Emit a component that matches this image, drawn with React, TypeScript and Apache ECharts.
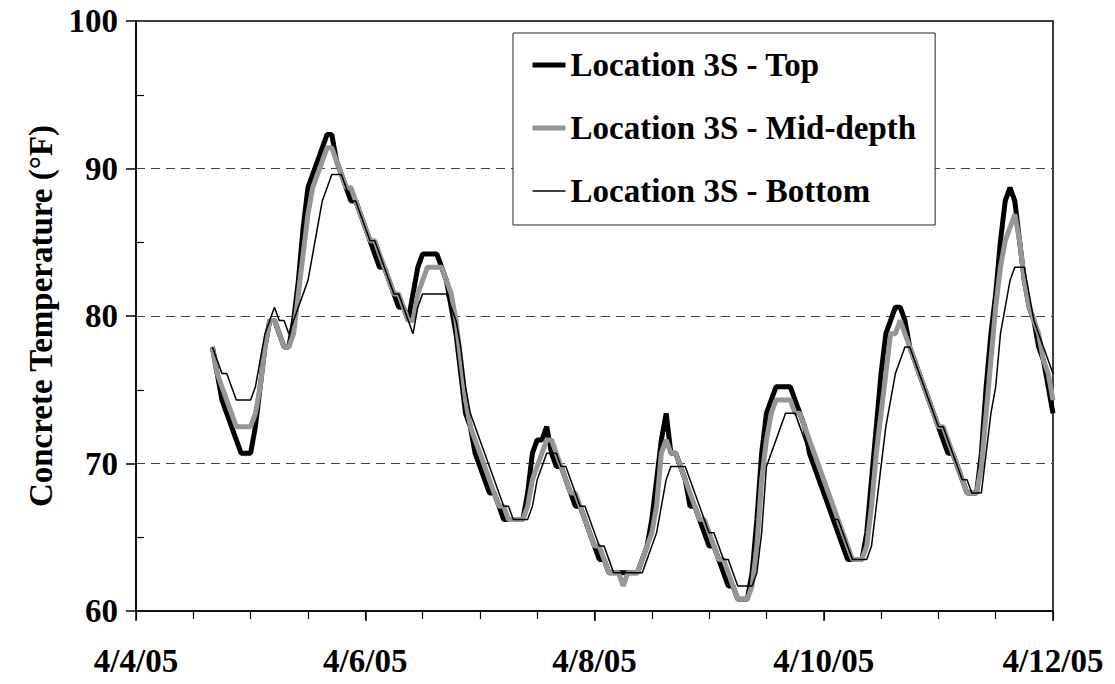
import React, { useEffect, useRef } from "react";
import * as echarts from "echarts";

// Hourly readings, starting at hour 16 of 4/4/05 (x axis in hours since 4/4/05 0:00)
const startHour = 16;
const xTickLabels = ["4/4/05", "4/6/05", "4/8/05", "4/10/05", "4/12/05"];
const yTicks = [60, 70, 80, 90, 100];
const seriesNames = ["Location 3S - Top", "Location 3S - Mid-depth", "Location 3S - Bottom"];

const topTemps = [
  77.9, 76.1, 74.3, 73.4, 72.5, 71.6, 70.7, 70.7, 70.7,
  72.5, 75.2, 77.9, 79.7, 79.7, 78.8, 77.9, 77.9,
  79.7, 82.4, 86.0, 88.7, 89.6, 90.5, 91.4, 92.3, 92.3,
  90.5, 89.6, 88.7, 87.8, 87.8, 86.9, 86.0, 85.1, 84.2, 83.3, 83.3, 82.4, 81.5, 80.6, 80.6, 79.7,
  81.5, 83.3, 84.2, 84.2, 84.2, 84.2, 83.3, 82.4, 80.6,
  78.8, 76.1, 73.4, 72.5, 70.7, 69.8, 68.9, 68.0, 68.0, 67.1, 66.2, 66.2, 66.2, 66.2, 66.2,
  68.0, 70.7, 71.6, 71.6, 72.5, 70.7,
  69.8, 69.8, 68.9, 68.0, 67.1, 67.1, 66.2, 65.3, 64.4, 63.5, 63.5, 62.6, 62.6, 62.6, 62.6, 62.6, 62.6, 62.6,
  63.5, 64.4, 66.2, 68.9, 71.6, 73.4,
  70.7, 70.7, 69.8, 68.9, 67.1, 67.1, 66.2, 65.3, 64.4, 64.4, 63.5, 62.6, 61.7, 61.7, 60.8, 60.8, 60.8,
  62.6, 66.2, 70.7, 73.4, 74.3, 75.2, 75.2, 75.2, 75.2,
  74.3, 73.4, 72.5, 70.7, 69.8, 68.9, 68.0, 67.1, 66.2, 65.3, 64.4, 63.5, 63.5, 63.5, 63.5,
  65.3, 68.9, 72.5, 76.1, 78.8, 79.7, 80.6, 80.6, 79.7,
  77.9, 77.0, 76.1, 75.2, 74.3, 73.4, 72.5, 71.6, 70.7, 70.7, 69.8, 68.9, 68.0, 68.0, 68.0,
  70.7, 75.2, 78.8, 81.5, 85.1, 87.8, 88.7, 87.8, 85.1, 82.4, 80.6, 79.7, 77.9, 77.0, 75.2, 73.4,
];

const midTemps = [
  77.9, 76.1, 75.2, 74.3, 73.4, 72.5, 72.5, 72.5, 72.5,
  73.4, 75.2, 77.9, 79.7, 79.7, 78.8, 77.9, 77.9,
  78.8, 81.5, 84.2, 86.9, 88.7, 89.6, 90.5, 91.4, 91.4,
  90.5, 89.6, 88.7, 88.7, 87.8, 86.9, 86.0, 85.1, 85.1, 84.2, 83.3, 82.4, 81.5, 81.5, 80.6, 79.7,
  79.7, 81.5, 82.4, 83.3, 83.3, 83.3, 83.3, 82.4, 81.5,
  79.7, 77.0, 74.3, 72.5, 71.6, 70.7, 69.8, 68.9, 68.0, 67.1, 67.1, 66.2, 66.2, 66.2, 66.2,
  67.1, 68.9, 69.8, 70.7, 71.6, 71.6,
  70.7, 69.8, 68.9, 68.0, 68.0, 67.1, 66.2, 65.3, 64.4, 64.4, 63.5, 62.6, 62.6, 62.6, 61.7, 62.6, 62.6, 62.6,
  63.5, 64.4, 65.3, 67.1, 70.7, 71.6,
  70.7, 70.7, 69.8, 68.9, 68.0, 67.1, 66.2, 66.2, 65.3, 64.4, 63.5, 63.5, 62.6, 61.7, 60.8, 60.8, 60.8,
  61.7, 64.4, 68.9, 71.6, 73.4, 74.3, 74.3, 74.3, 74.3,
  73.4, 73.4, 72.5, 71.6, 70.7, 69.8, 68.9, 68.0, 67.1, 66.2, 65.3, 64.4, 63.5, 63.5, 63.5,
  64.4, 67.1, 70.7, 73.4, 76.1, 78.8, 78.8, 79.7, 78.8,
  77.9, 77.0, 76.1, 75.2, 74.3, 73.4, 72.5, 72.5, 71.6, 70.7, 69.8, 68.9, 68.0, 68.0, 68.0,
  69.8, 73.4, 77.0, 80.6, 83.3, 85.1, 86.0, 86.9, 85.1, 82.4, 80.6, 79.7, 78.8, 77.0, 76.1, 74.3,
];

const bottomTemps = [
  77.9, 77.0, 76.1, 76.1, 75.2, 74.3, 74.3, 74.3, 74.3,
  75.2, 77.0, 78.8, 79.7, 80.6, 79.7, 79.7, 78.8,
  79.7, 80.6, 81.5, 82.4, 84.2, 86.0, 87.8, 88.7, 89.6,
  89.6, 89.6, 88.7, 87.8, 87.8, 86.9, 86.0, 85.1, 85.1, 84.2, 83.3, 82.4, 81.5, 81.5, 80.6, 79.7,
  78.8, 80.6, 81.5, 81.5, 81.5, 81.5, 81.5, 81.5, 80.6,
  79.7, 77.9, 75.2, 73.4, 72.5, 71.6, 70.7, 69.8, 68.9, 68.0, 67.1, 67.1, 66.2, 66.2, 66.2,
  66.2, 67.1, 68.9, 69.8, 70.7, 70.7,
  70.7, 69.8, 69.8, 68.9, 68.0, 67.1, 67.1, 66.2, 65.3, 64.4, 64.4, 63.5, 62.6, 62.6, 62.6, 62.6, 62.6, 62.6,
  62.6, 63.5, 64.4, 65.3, 67.1, 68.9,
  69.8, 69.8, 69.8, 69.8, 68.9, 68.0, 67.1, 66.2, 65.3, 65.3, 64.4, 63.5, 63.5, 62.6, 61.7, 61.7, 61.7,
  61.7, 62.6, 65.3, 69.8, 70.7, 71.6, 72.5, 73.4, 73.4,
  73.4, 72.5, 71.6, 70.7, 69.8, 68.9, 68.0, 67.1, 66.2, 66.2, 65.3, 64.4, 63.5, 63.5, 63.5,
  63.5, 64.4, 67.1, 69.8, 72.5, 74.3, 76.1, 77.0, 77.9,
  77.9, 77.0, 76.1, 75.2, 74.3, 73.4, 72.5, 72.5, 71.6, 70.7, 69.8, 68.9, 68.9, 68.0, 68.0,
  68.0, 70.7, 73.4, 75.2, 78.8, 80.6, 82.4, 83.3, 83.3, 83.3, 81.5, 79.7, 78.8, 77.9, 77.0, 76.1,
];

const FONT = "'Liberation Serif', 'Times New Roman', serif";
const toPairs = (vals: number[]) => vals.map((v, i) => [startHour + i, v]);

const seriesStyles = [
  { color: "#000", width: 5 },
  { color: "#969696", width: 5 },
  { color: "#000", width: 1.5 },
];

export default function App() {
  const ref = useRef<HTMLDivElement>(null);
  useEffect(() => {
    if (!ref.current) return;
    const chart = echarts.init(ref.current, undefined, { renderer: "svg" });
    const xMin = 0;
    const xMax = 192;
    const xStep = 48;
    const yMin = yTicks[0];
    const yMax = yTicks[yTicks.length - 1];
    const gridTop = 21;
    const gridBottom = 73;
    const gridLeft = 136;
    const gridRight = 62;
    const plotH = 684 - gridTop - gridBottom;
    const labelFont = { fontFamily: FONT, fontWeight: "bold" as const, fontSize: 33, color: "#000" };

    chart.setOption({
      animation: false,
      backgroundColor: "#fff",
      grid: {
        left: gridLeft,
        right: gridRight,
        top: gridTop,
        bottom: gridBottom,
        show: true,
        borderColor: "#000",
        borderWidth: 1.5,
        backgroundColor: "transparent",
        containLabel: false,
        outerBoundsMode: "none",
      },
      legend: {
        orient: "vertical",
        left: 513,
        top: 33,
        data: seriesNames.map((name, i) => ({
          name,
          itemStyle: { opacity: 0 },
          lineStyle: { color: seriesStyles[i].color, width: seriesStyles[i].width, opacity: 1 },
        })),
        backgroundColor: "#fff",
        borderColor: "#222",
        borderWidth: 1,
        padding: [12, 19, 14, 17],
        itemGap: 23,
        itemWidth: 33,
        itemHeight: 14,
        itemStyle: { opacity: 0 },
        textStyle: { ...labelFont, lineHeight: 40, padding: [0, 0, 0, 0] },
        selectedMode: false,
      },
      xAxis: [
        {
          type: "value",
          min: xMin,
          max: xMax,
          interval: xStep,
          position: "bottom",
          axisLine: { show: true, lineStyle: { color: "#000", width: 1.5 } },
          axisTick: { show: true, inside: false, length: 10, lineStyle: { color: "#000", width: 1.5 } },
          axisLabel: {
            ...labelFont,
            margin: 33,
            formatter: (v: number) => xTickLabels[Math.round((v - xMin) / xStep)] ?? "",
          },
          splitLine: { show: false },
        },
        {
          type: "value",
          min: xMin,
          max: xMax,
          interval: xStep / 4,
          position: "top",
          offset: -plotH,
          axisLine: { show: false },
          axisTick: { show: true, inside: true, length: 8, lineStyle: { color: "#000", width: 1.2 } },
          axisLabel: { show: false },
          splitLine: { show: false },
        },
      ],
      yAxis: [
        {
          type: "value",
          min: yMin,
          max: yMax,
          interval: 10,
          position: "left",
          name: "Concrete Temperature (°F)",
          nameLocation: "middle",
          nameGap: 78,
          nameTextStyle: { ...labelFont },
          axisLine: { show: true, lineStyle: { color: "#000", width: 1.5 } },
          axisTick: { show: true, inside: true, length: -10, lineStyle: { color: "#000", width: 1.5 } },
          minorTick: { show: true, splitNumber: 2, length: 8, lineStyle: { color: "#000", width: 1.2 } },
          axisLabel: { ...labelFont, margin: 18 },
          splitLine: {
            show: true,
            showMinLine: false,
            showMaxLine: false,
            lineStyle: { color: "#444", width: 1, type: [9, 6] },
          },
        },
      ],
      series: [topTemps, midTemps, bottomTemps].map((vals, i) => ({
        name: seriesNames[i],
        type: "line",
        data: toPairs(vals),
        symbol: "none",
        lineStyle: { color: seriesStyles[i].color, width: seriesStyles[i].width },
        itemStyle: { color: seriesStyles[i].color },
        z: 2 + i,
      })),
    });
    return () => chart.dispose();
  }, []);
  return (
    <div
      ref={ref}
      style={{ position: "absolute", left: 0, top: 0, width: 1115, height: 684, background: "#fff" }}
    />
  );
}
